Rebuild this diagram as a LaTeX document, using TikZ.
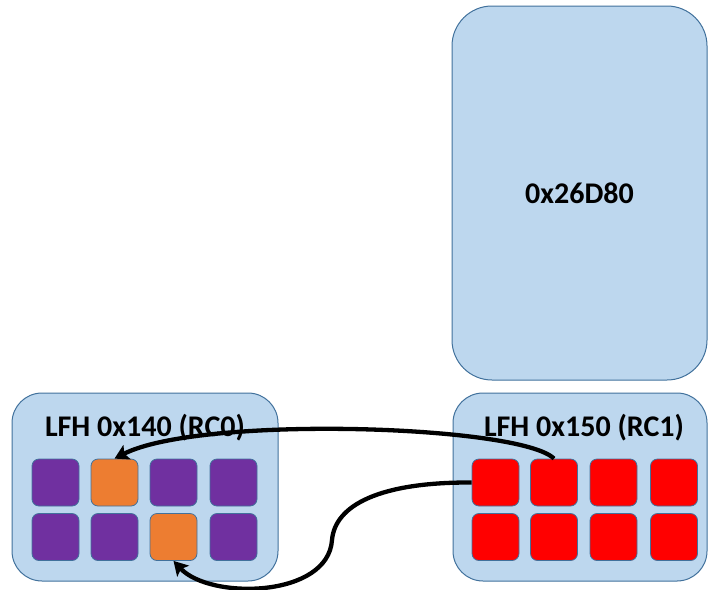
\documentclass[tikz,border=0pt]{standalone}
\usepackage{fontspec}
\setmainfont{Carlito}
\usetikzlibrary{arrows.meta}
\definecolor{boxfill}{HTML}{BDD7EE}
\definecolor{boxedge}{HTML}{41719C}
\definecolor{cpurple}{HTML}{7030A0}
\definecolor{corange}{HTML}{ED7D31}
\definecolor{cred}{HTML}{FF0000}
\begin{document}
\begin{tikzpicture}[x=1pt,y=-1pt,
  region/.style={draw=boxedge, fill=boxfill, line width=1pt, rounded corners=30pt, inner sep=0pt},
  cell/.style={draw=boxedge, line width=0.8pt, rounded corners=7pt, minimum width=47pt, minimum height=47pt, inner sep=0pt},
  title/.style={font=\bfseries\fontsize{30}{30}\selectfont, inner sep=0pt, anchor=base},
  link/.style={line width=4.3pt, -{Stealth[length=14pt,width=16pt,inset=3pt]}}]
\useasboundingbox (0,0) rectangle (708,589);
% regions
\node[region, rounded corners=40pt, minimum width=255pt, minimum height=374pt, font=\bfseries\fontsize{30}{30}\selectfont] (big) at (579.5,193) {0x26D80};
\node[region, minimum width=266pt, minimum height=188pt] (rc0) at (145,487) {};
\node[region, minimum width=254pt, minimum height=188pt] (rc1) at (580,487) {};
\node[title] (t0) at (145,436) {LFH 0x140 (RC0)};
\node[title] (t1) at (584,436) {LFH 0x150 (RC1)};
% left cells
\node[cell, fill=cpurple] (l11) at (55.5,482.5) {};
\node[cell, fill=corange] (l12) at (114.5,482.5) {};
\node[cell, fill=cpurple] (l13) at (173.5,482.5) {};
\node[cell, fill=cpurple] (l14) at (233.5,482.5) {};
\node[cell, fill=cpurple] (l21) at (55.5,537) {};
\node[cell, fill=cpurple] (l22) at (114.5,537) {};
\node[cell, fill=corange] (l23) at (173.5,537) {};
\node[cell, fill=cpurple] (l24) at (233.5,537) {};
% right cells
\node[cell, fill=cred] (r11) at (495.5,482.5) {};
\node[cell, fill=cred] (r12) at (554,482.5) {};
\node[cell, fill=cred] (r13) at (613.5,482.5) {};
\node[cell, fill=cred] (r14) at (674,482.5) {};
\node[cell, fill=cred] (r21) at (495.5,537) {};
\node[cell, fill=cred] (r22) at (554,537) {};
\node[cell, fill=cred] (r23) at (613.5,537) {};
\node[cell, fill=cred] (r24) at (674,537) {};
% connectors
\coordinate (bend) at (332,540);
\draw[link] (r12.north) .. controls (520,425) and (200,415) .. (l12.north);
\draw[link] (r11.west) .. controls (380,482) and (335,505) .. (bend) .. controls (328,598) and (210,600) .. (l23.south);
\end{tikzpicture}
\end{document}
